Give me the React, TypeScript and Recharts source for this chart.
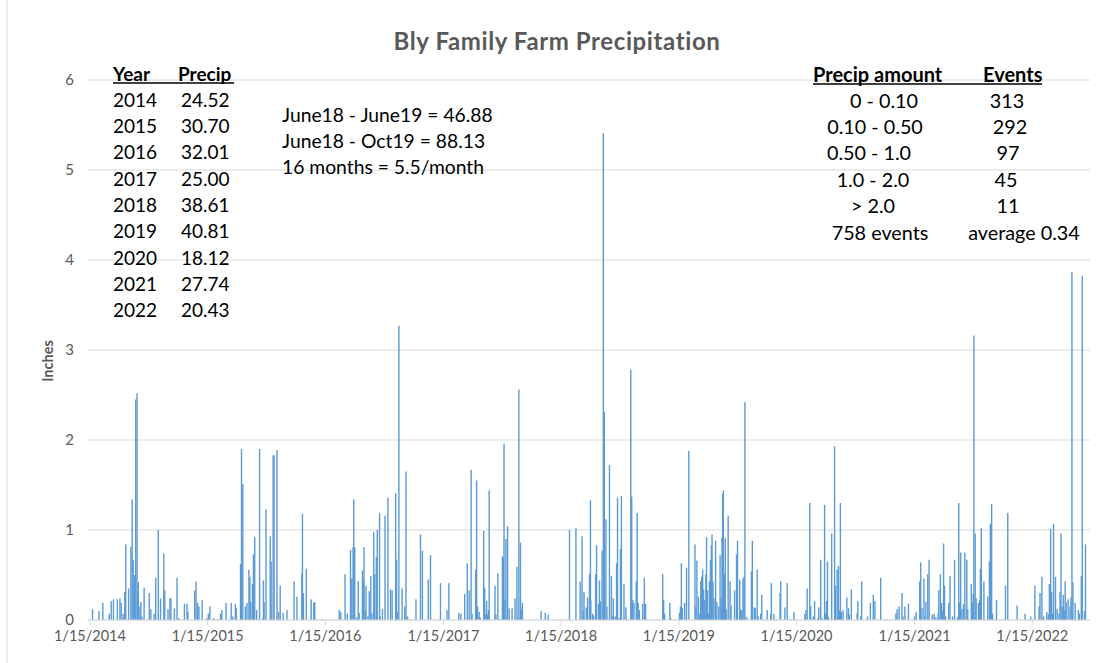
import { BarChart, Bar, XAxis, YAxis, CartesianGrid } from "recharts";

// daily precipitation events, [month-day, inches]
const rain2014: [string, number][] = [
  ["01-23", 0.12], ["02-12", 0.1], ["02-24", 0.19], ["03-16", 0.07], ["03-22", 0.21], ["03-29", 0.23],
  ["04-10", 0.23], ["04-18", 0.24], ["04-22", 0.19], ["04-28", 0.07], ["05-03", 0.31], ["05-06", 0.84],
  ["05-15", 0.35], ["05-22", 0.81], ["05-26", 1.34], ["05-29", 0.67], ["06-01", 0.43], ["06-03", 0.5],
  ["06-06", 2.45], ["06-10", 2.52], ["06-12", 0.3], ["06-14", 0.42], ["06-19", 0.15], ["06-22", 0.2],
  ["06-25", 0.04], ["07-02", 0.36], ["07-18", 0.3], ["07-23", 0.12], ["08-02", 0.07], ["08-07", 0.47],
  ["08-15", 1.0], ["08-22", 0.24], ["09-01", 0.74], ["09-04", 0.33], ["09-14", 0.12], ["09-20", 0.24],
  ["09-23", 0.24], ["10-04", 0.13], ["10-12", 0.47], ["10-17", 0.02], ["11-04", 0.18], ["11-12", 0.18],
  ["11-15", 0.09], ["12-06", 0.33], ["12-10", 0.43], ["12-15", 0.19], ["12-19", 0.15], ["12-29", 0.22],
];

const rain2015: [string, number][] = [
  ["01-12", 0.02], ["01-17", 0.07], ["01-22", 0.15], ["02-03", 0.02], ["02-16", 0.01], ["02-24", 0.07],
  ["02-28", 0.11], ["03-13", 0.19], ["03-29", 0.19], ["04-03", 0.04], ["04-11", 0.18], ["04-14", 0.13],
  ["04-27", 0.62], ["04-29", 0.3], ["04-30", 1.9], ["05-04", 1.51], ["05-12", 0.15], ["05-17", 0.19],
  ["05-23", 0.56], ["05-26", 0.48], ["05-29", 0.2], ["06-03", 0.4], ["06-06", 0.73], ["06-10", 0.92],
  ["06-16", 0.11], ["06-25", 1.9], ["07-05", 0.02], ["07-07", 0.44], ["07-09", 0.2], ["07-15", 1.23],
  ["07-28", 0.93], ["07-31", 0.65], ["08-06", 1.83], ["08-09", 1.83], ["08-18", 1.89], ["08-23", 0.09],
  ["08-28", 0.38], ["09-06", 0.08], ["09-18", 0.11], ["10-10", 0.43], ["10-19", 0.26], ["11-03", 0.51],
  ["11-05", 1.18], ["11-08", 0.3], ["11-17", 0.57], ["12-02", 0.23], ["12-10", 0.19], ["12-13", 0.2],
];

const rain2016: [string, number][] = [
  ["01-06", 0.01], ["02-27", 0.11], ["03-03", 0.09], ["03-16", 0.51], ["03-23", 0.07], ["04-02", 0.78],
  ["04-06", 0.46], ["04-10", 0.81], ["04-12", 1.34], ["04-15", 0.81], ["04-21", 0.03], ["04-26", 0.43],
  ["04-29", 0.08], ["05-09", 0.55], ["05-12", 0.44], ["05-14", 0.81], ["05-18", 0.11], ["05-20", 0.38],
  ["05-26", 0.04], ["05-30", 0.32], ["06-04", 0.49], ["06-07", 0.08], ["06-13", 0.98], ["06-16", 0.51],
  ["06-21", 0.7], ["06-24", 1.0], ["07-01", 1.19], ["07-03", 0.04], ["07-10", 0.12], ["07-18", 1.16],
  ["07-27", 1.36], ["08-04", 0.34], ["08-09", 0.33], ["08-20", 1.41], ["08-23", 0.67], ["08-25", 0.09],
  ["08-30", 3.27], ["09-09", 0.35], ["09-17", 0.15], ["09-21", 1.65], ["09-26", 0.04], ["10-03", 0.01],
  ["10-22", 0.23], ["11-05", 0.95], ["11-11", 0.77], ["11-29", 0.45], ["12-06", 0.72],
];

const rain2017: [string, number][] = [
  ["01-06", 0.41], ["01-26", 0.11], ["02-01", 0.41], ["03-04", 0.08], ["03-10", 0.07], ["03-22", 0.29],
  ["03-30", 0.63], ["04-05", 0.33], ["04-11", 1.67], ["04-14", 0.07], ["04-25", 0.56], ["04-28", 1.55],
  ["05-01", 0.15], ["05-06", 0.09], ["05-09", 0.03], ["05-20", 0.99], ["05-23", 0.36], ["05-27", 0.07],
  ["05-29", 0.21], ["06-01", 0.06], ["06-04", 0.11], ["06-06", 1.44], ["06-24", 0.38], ["06-27", 0.06],
  ["07-03", 0.52], ["07-10", 0.01], ["07-17", 0.71], ["07-20", 0.69], ["07-22", 1.96], ["07-25", 0.23],
  ["07-28", 0.9], ["08-02", 1.04], ["08-07", 0.13], ["08-16", 0.13], ["08-25", 0.24], ["08-31", 0.59],
  ["09-03", 0.03], ["09-06", 2.56], ["09-11", 0.86], ["09-15", 0.12], ["09-17", 0.19], ["11-14", 0.1],
  ["11-27", 0.08], ["12-06", 0.06],
];

const rain2018: [string, number][] = [
  ["02-10", 1.0], ["03-02", 1.02], ["03-15", 0.43], ["03-21", 0.93], ["03-24", 0.11], ["03-27", 0.31],
  ["04-03", 0.14], ["04-07", 0.25], ["04-13", 0.51], ["04-16", 1.33], ["04-17", 0.22], ["04-23", 0.07],
  ["04-26", 0.04], ["05-02", 0.51], ["05-05", 0.83], ["05-11", 0.18], ["05-14", 0.44], ["05-17", 0.21],
  ["05-22", 0.77], ["05-26", 5.41], ["05-29", 2.31], ["06-03", 1.12], ["06-06", 0.15], ["06-14", 1.72],
  ["06-20", 0.49], ["06-23", 0.04], ["06-26", 0.24], ["07-02", 0.04], ["07-06", 0.63], ["07-09", 1.36],
  ["07-14", 0.02], ["07-18", 0.79], ["07-21", 1.38], ["07-29", 0.4], ["08-04", 0.14], ["08-19", 2.78],
  ["08-22", 1.37], ["08-25", 0.22], ["08-29", 0.19], ["09-05", 0.43], ["09-08", 1.19], ["09-11", 0.19],
  ["09-15", 0.11], ["09-25", 0.18], ["09-30", 0.47], ["10-04", 0.18], ["11-26", 0.51], ["11-29", 0.22],
  ["12-02", 0.07], ["12-18", 0.19], ["12-21", 0.02],
];

const rain2019: [string, number][] = [
  ["01-17", 0.08], ["01-20", 0.15], ["01-23", 0.63], ["01-26", 0.13], ["02-02", 0.19], ["02-08", 0.58],
  ["02-15", 1.88], ["03-06", 0.84], ["03-09", 0.15], ["03-12", 0.66], ["03-17", 0.26], ["03-21", 0.07],
  ["03-24", 0.43], ["03-27", 0.48], ["03-30", 0.56], ["04-02", 0.34], ["04-05", 0.22], ["04-09", 0.51],
  ["04-11", 0.92], ["04-14", 0.33], ["04-17", 0.07], ["04-20", 0.43], ["04-23", 0.67], ["04-26", 0.83],
  ["04-28", 0.95], ["05-01", 0.43], ["05-04", 0.24], ["05-09", 0.88], ["05-13", 0.2], ["05-19", 0.15],
  ["05-23", 0.72], ["05-26", 0.24], ["05-29", 0.92], ["05-31", 1.4], ["06-02", 1.44], ["06-05", 0.51],
  ["06-08", 0.91], ["06-11", 0.12], ["06-17", 1.16], ["06-23", 0.43], ["06-26", 0.16], ["07-07", 0.33],
  ["07-13", 0.73], ["07-16", 0.88], ["07-23", 0.45], ["07-26", 0.11], ["07-29", 0.11], ["08-02", 0.46],
  ["08-05", 0.48], ["08-08", 2.42], ["08-14", 0.03], ["08-28", 0.54], ["08-31", 0.88], ["09-06", 0.14],
  ["09-09", 0.13], ["09-15", 0.56], ["09-18", 0.04], ["09-26", 0.07], ["09-29", 0.28], ["10-16", 0.11],
  ["10-27", 0.07], ["10-29", 0.41], ["11-06", 0.07], ["11-12", 0.01], ["11-25", 0.3], ["11-27", 0.43],
  ["12-10", 0.14], ["12-17", 0.41], ["12-24", 0.01], ["12-31", 0.01],
];

const rain2020: [string, number][] = [
  ["01-07", 0.09], ["02-10", 0.07], ["02-13", 0.11], ["02-17", 0.35], ["02-25", 1.3], ["02-28", 0.15],
  ["03-07", 0.04], ["03-11", 0.21], ["03-22", 0.02], ["03-24", 0.14], ["03-30", 0.67], ["04-03", 0.02],
  ["04-11", 1.28], ["04-14", 0.07], ["04-17", 0.21], ["04-20", 0.65], ["04-23", 0.03], ["05-03", 0.96],
  ["05-12", 1.93], ["05-15", 0.38], ["05-20", 0.56], ["05-24", 0.6], ["05-27", 0.11], ["05-30", 1.3],
  ["06-02", 0.09], ["06-07", 0.11], ["06-19", 0.25], ["06-24", 0.13], ["06-27", 0.06], ["07-03", 0.34],
  ["07-21", 0.08], ["07-23", 0.21], ["08-01", 0.04], ["08-04", 0.43], ["08-22", 0.04], ["08-31", 0.19],
  ["09-09", 0.28], ["09-14", 0.21], ["10-02", 0.47], ["10-19", 0.01], ["11-18", 0.07], ["11-22", 0.12],
  ["11-28", 0.15], ["12-07", 0.3], ["12-10", 0.04], ["12-16", 0.15], ["12-27", 0.18],
];

const rain2021: [string, number][] = [
  ["01-15", 0.04], ["01-20", 0.09], ["01-31", 0.43], ["02-03", 0.64], ["02-07", 0.13], ["02-13", 0.46],
  ["02-16", 0.04], ["02-19", 0.2], ["02-25", 0.51], ["03-01", 0.67], ["03-11", 0.06], ["03-17", 0.07],
  ["03-22", 0.03], ["03-29", 0.07], ["03-31", 0.33], ["04-05", 0.51], ["04-09", 0.19], ["04-12", 0.1],
  ["04-15", 0.85], ["04-18", 0.38], ["04-21", 0.04], ["05-01", 0.19], ["05-05", 0.49], ["05-13", 0.04],
  ["05-19", 0.67], ["05-28", 0.03], ["06-01", 1.3], ["06-04", 0.19], ["06-07", 0.75], ["06-11", 0.12],
  ["06-16", 0.18], ["06-20", 0.75], ["06-26", 0.67], ["06-29", 0.12], ["07-10", 0.4], ["07-13", 0.2],
  ["07-16", 0.29], ["07-18", 3.16], ["07-22", 0.96], ["07-25", 0.24], ["08-01", 0.19], ["08-05", 0.22],
  ["08-07", 0.57], ["08-10", 1.02], ["08-18", 0.43], ["08-30", 0.26], ["09-04", 0.65], ["09-07", 1.07],
  ["09-11", 1.29], ["09-14", 0.07], ["09-26", 0.22], ["10-21", 0.01], ["10-24", 0.38], ["10-31", 1.19],
  ["11-29", 0.16], ["12-24", 0.07],
];

const rain2022: [string, number][] = [
  ["01-10", 0.04], ["01-23", 0.38], ["02-05", 0.15], ["02-08", 0.3], ["02-14", 0.48], ["02-19", 0.04],
  ["03-01", 0.09], ["03-06", 0.06], ["03-09", 0.4], ["03-13", 1.01], ["03-16", 0.31], ["03-19", 0.07],
  ["03-22", 1.07], ["03-28", 0.48], ["04-02", 0.12], ["04-08", 0.07], ["04-11", 0.31], ["04-14", 0.96],
  ["04-18", 0.15], ["04-21", 0.28], ["04-24", 0.11], ["04-27", 0.43], ["04-30", 0.2], ["05-06", 0.23],
  ["05-12", 0.15], ["05-15", 0.25], ["05-18", 3.87], ["05-21", 0.42], ["05-28", 0.19], ["06-07", 0.11],
  ["06-10", 0.07], ["06-16", 0.49], ["06-19", 3.82], ["06-26", 0.1], ["06-29", 0.84],
];

const years = [2014, 2015, 2016, 2017, 2018, 2019, 2020, 2021, 2022];
const rainByYear = [rain2014, rain2015, rain2016, rain2017, rain2018, rain2019, rain2020, rain2021, rain2022];
const yearTotals = ["24.52", "30.70", "32.01", "25.00", "38.61", "40.81", "18.12", "27.74", "20.43"];

const notes = ["June18 - June19 = 46.88", "June18 - Oct19 = 88.13", "16 months = 5.5/month"];

const rangeLabels = ["0 - 0.10", "0.10 - 0.50", "0.50 - 1.0", "1.0 - 2.0", "> 2.0", "758 events"];
const rangeEvents = ["313", "292", "97", "45", "11", "average 0.34"];

const yTicks = [0, 1, 2, 3, 4, 5, 6];

const START = Date.UTC(2014, 0, 15);
const dayOf = (year: number, md: string) => {
  const [m, d] = md.split("-").map(Number);
  return (Date.UTC(year, m - 1, d) - START) / 86400000;
};

const data = rainByYear.flatMap((rows, i) =>
  rows.map(([md, inches]) => ({ day: dayOf(years[i], md), inches }))
);
const xTicks = years.map((y) => dayOf(y, "01-15"));
const fmtTick = (d: number) => {
  const dt = new Date(START + d * 86400000);
  return `${dt.getUTCMonth() + 1}/${dt.getUTCDate()}/${dt.getUTCFullYear()}`;
};

const FONT = "Lato, 'Open Sans', sans-serif";
const GRAY = "#595959";
const BAR_W = 1.4;

// recharts squeezes bars on a dense number axis to a fraction of a pixel,
// so draw each one as a thin rect centred on its slot
const ThinBar = (props: any) => {
  const { x, y, width, height, fill } = props;
  if (!height || height <= 0) return null;
  return <rect x={x + width / 2 - BAR_W / 2} y={y} width={BAR_W} height={height} fill={fill} />;
};

// y centres of table rows
const leftRowY = [99, 125.5, 151.5, 178, 204, 230.5, 257, 283, 309];
const noteY = [114, 140, 166.5];
const rightRowY = [100, 126, 152, 178.5, 205, 231.5];
const rangeX = [884, 875, 869, 873, 873, 880];
const eventX = [1007, 1010, 1008, 1006, 1008, 1024];

export default function App() {
  return (
    <div
      style={{
        position: "absolute",
        left: 0,
        top: 0,
        width: 1105,
        height: 663,
        background: "#fff",
        fontFamily: FONT,
      }}
    >
      <BarChart
        width={1105}
        height={663}
        data={data}
        margin={{ top: 80, right: 15, bottom: 13, left: 0 }}
        style={{ position: "absolute", left: 0, top: 0 }}
      >
        <CartesianGrid vertical={false} stroke="#d9d9d9" strokeWidth={1} />
        <XAxis
          dataKey="day"
          type="number"
          domain={[-6, dayOf(2022, "07-13")]}
          allowDataOverflow
          ticks={xTicks}
          tickFormatter={fmtTick}
          height={30}
          axisLine={{ stroke: "#d9d9d9" }}
          tickLine={{ stroke: "#d9d9d9" }}
          tickSize={5}
          tickMargin={6}
          tick={{ fill: GRAY, fontSize: 14.5, fontFamily: FONT }}
        />
        <YAxis
          type="number"
          domain={[0, 6]}
          ticks={yTicks}
          width={88}
          axisLine={false}
          tickLine={false}
          tickMargin={8}
          tick={{ fill: GRAY, fontSize: 15, fontFamily: FONT }}
        />
        <Bar dataKey="inches" fill="#5B9BD5" shape={ThinBar} isAnimationActive={false} />
      </BarChart>

      <svg
        width={1105}
        height={663}
        style={{ position: "absolute", left: 0, top: 0, pointerEvents: "none" }}
        fontFamily={FONT}
      >
        <line x1={7} y1={0} x2={7} y2={663} stroke="#d9d9d9" />
        <text
          x={557}
          y={40}
          textAnchor="middle"
          dominantBaseline="central"
          fontSize={24}
          letterSpacing={0.6}
          fontWeight={700}
          fill={GRAY}
        >
          Bly Family Farm Precipitation
        </text>
        <text
          x={47}
          y={361}
          transform="rotate(-90 47 361)"
          textAnchor="middle"
          dominantBaseline="central"
          fontSize={14.5}
          fontWeight={700}
          fill={GRAY}
        >
          Inches
        </text>

        {/* yearly totals */}
        <text x={113} y={73} dominantBaseline="central" fontSize={19} fontWeight={700} fill="#000">Year</text>
        <text x={178} y={73} dominantBaseline="central" fontSize={19} fontWeight={700} fill="#000">Precip</text>
        <line x1={113} y1={83} x2={234} y2={83} stroke="#000" strokeWidth={1.6} />
        {years.map((y, i) => (
          <g key={y}>
            <text x={113} y={leftRowY[i]} dominantBaseline="central" fontSize={19} fill="#000">{y}</text>
            <text x={181} y={leftRowY[i]} dominantBaseline="central" fontSize={19} fill="#000">{yearTotals[i]}</text>
          </g>
        ))}

        {notes.map((n, i) => (
          <text key={n} x={282} y={noteY[i]} dominantBaseline="central" fontSize={19.3} fill="#000">{n}</text>
        ))}

        {/* event counts by amount */}
        <text x={813} y={74} dominantBaseline="central" fontSize={20} fontWeight={700} fill="#000">Precip amount</text>
        <text x={983} y={74} dominantBaseline="central" fontSize={20} fontWeight={700} fill="#000">Events</text>
        <line x1={813} y1={84} x2={1042} y2={84} stroke="#000" strokeWidth={1.6} />
        {rangeLabels.map((r, i) => (
          <g key={r}>
            <text x={rangeX[i]} y={rightRowY[i]} textAnchor="middle" dominantBaseline="central" fontSize={19.8} fill="#000">{r}</text>
            <text x={eventX[i]} y={rightRowY[i]} textAnchor="middle" dominantBaseline="central" fontSize={19.8} fill="#000">{rangeEvents[i]}</text>
          </g>
        ))}
      </svg>
    </div>
  );
}
